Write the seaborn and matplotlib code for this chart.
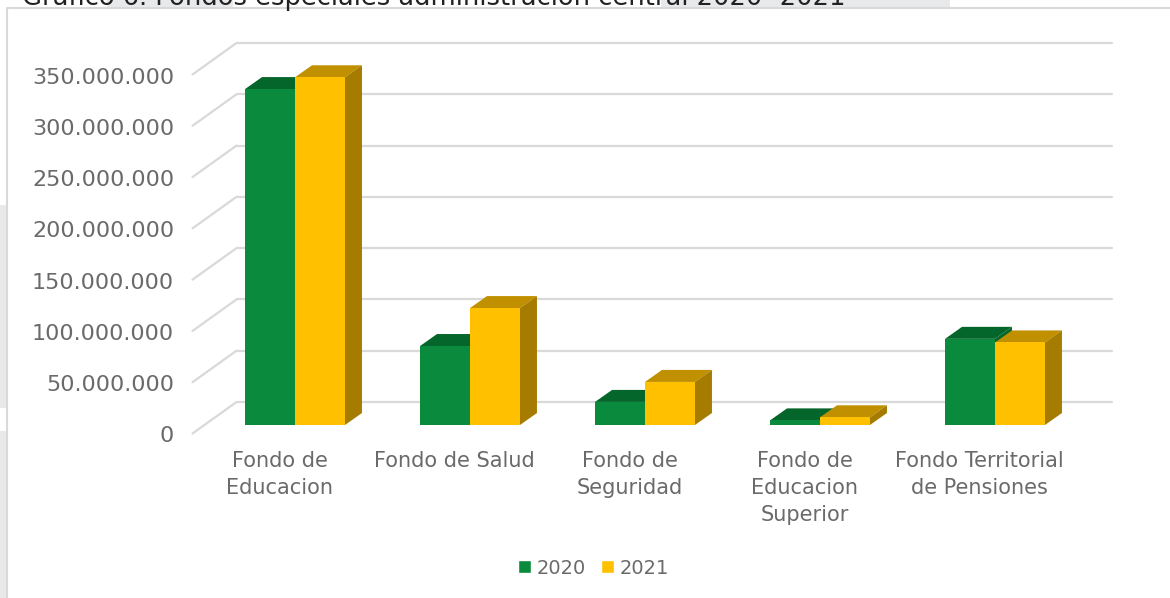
import matplotlib
matplotlib.use("Agg")
import matplotlib.pyplot as plt
from matplotlib.patches import Polygon, Rectangle
from matplotlib.transforms import Affine2D
import seaborn as sns
import pandas as pd

categories = ["Fondo de\nEducacion", "Fondo de Salud", "Fondo de\nSeguridad",
              "Fondo de\nEducacion\nSuperior", "Fondo Territorial\nde Pensiones"]
values_2020 = [327.5e6, 77e6, 22.5e6, 4.5e6, 84e6]
values_2021 = [339e6, 114e6, 42e6, 7.5e6, 80.5e6]
tick_values = [0, 50e6, 100e6, 150e6, 200e6, 250e6, 300e6, 350e6]
title = "Gráfico 6. Fondos especiales administración central 2020- 2021"

GREEN, GREEN_TOP = "#0A8A3C", "#05662B"
GOLD, GOLD_TOP, GOLD_SIDE = "#FFC000", "#C09000", "#A67C00"
TEXT = "#6A6A6A"
GRID = "#D9D9D9"
BACK = "#E8E9EA"
W, H = 1170, 598

sns.set_theme(style="white")
plt.rcParams["font.family"] = ["DejaVu Sans"]
df = pd.DataFrame({"cat": categories * 2,
                   "year": ["2020"] * 5 + ["2021"] * 5,
                   "value": values_2020 + values_2021})

fig = plt.figure(figsize=(W / 100, H / 100), dpi=100, facecolor="white")

# pale page remnants showing around the chart frame
def page_patch(x0, y0, x1, y1):
    fig.add_artist(Rectangle((x0 / W, 1 - y1 / H), (x1 - x0) / W, (y1 - y0) / H,
                             transform=fig.transFigure, fc=BACK, ec="none"))
page_patch(0, 205, 6, 408)
page_patch(0, 431, 6, 598)
page_patch(107, 0, 233, 8)
page_patch(661, 0, 950, 8)

L, R, B, T = 207.5, 1082.5, 425, 66
ax = fig.add_axes([L / W, 1 - B / H, (R - L) / W, (B - T) / H])
ax.patch.set_alpha(0)
sns.barplot(data=df, x="cat", y="value", hue="year", order=categories,
            palette={"2020": GREEN, "2021": GOLD}, width=0.571, saturation=1,
            linewidth=0, legend=False, ax=ax, zorder=3)
ax.set_xlim(-0.5, 4.5)
ax.set_ylim(0, 350e6)
for s in ax.spines.values():
    s.set_visible(False)
ax.set_xlabel("")
ax.set_ylabel("")
fig.canvas.draw()

def shift(dx, dy):
    # offset in screen pixels (dy positive = upward)
    return ax.transData + Affine2D().translate(dx, dy)

# back wall grid and floor-side lines
for v in tick_values:
    ax.plot([-0.5, 4.5], [v, v], color=GRID, lw=1.6, clip_on=False, zorder=1,
            transform=shift(29, 23))
    x0 = ax.transData.transform((-0.5, v))
    ax.plot([x0[0] - 15, x0[0] + 29], [x0[1] - 8.5, x0[1] + 23], color=GRID, lw=1.6,
            clip_on=False, zorder=1, transform=None)

# 3D faces built from the bars seaborn drew
DX, DY = 17, 12
for container, top_c, side_c in zip(ax.containers, (GREEN_TOP, GOLD_TOP), ("#05662B", GOLD_SIDE)):
    for bar in container:
        x, w, h = bar.get_x(), bar.get_width(), bar.get_height()
        (x0, y0), (x1, y1) = ax.transData.transform([(x, 0), (x + w, h)])
        ax.add_patch(Polygon([(x0, y1), (x1, y1), (x1 + DX, y1 + DY), (x0 + DX, y1 + DY)],
                             closed=True, fc=top_c, ec="none", transform=None,
                             clip_on=False, zorder=2.5))
        ax.add_patch(Polygon([(x1, y0), (x1, y1), (x1 + DX, y1 + DY), (x1 + DX, y0 + DY)],
                             closed=True, fc=side_c, ec="none", transform=None,
                             clip_on=False, zorder=2.5 if side_c == GOLD_SIDE else 2))

ax.set_yticks(tick_values)
ax.set_yticklabels([f"{int(v):,}".replace(",", ".") for v in tick_values])
ax.tick_params(axis="y", length=0, labelsize=16, labelcolor=TEXT, pad=24)
ax.tick_params(axis="x", length=0, labelsize=15, labelcolor=TEXT, pad=19)
for lab in ax.get_yticklabels():
    lab.set_transform(lab.get_transform() + Affine2D().translate(0, -9.5))
for lab in ax.get_xticklabels():
    lab.set_transform(lab.get_transform() + Affine2D().translate(-15.5, 0))
    lab.set_linespacing(1.42)

# chart frame and clipped title
fig.add_artist(plt.Line2D([7 / W, 7 / W, 1], [0, 1 - 8 / H, 1 - 8 / H], color=GRID, lw=1.5))
fig.text(22 / W, 1 - 5 / H, title, fontsize=18.5, color="#222222", ha="left", va="baseline")

# legend
handles = [Rectangle((0, 0), 1, 1, fc=GREEN), Rectangle((0, 0), 1, 1, fc=GOLD)]
fig.legend(handles, ["2020", "2021"], loc="center", ncol=2, frameon=False,
           bbox_to_anchor=(593.5 / W, 1 - 568 / H), fontsize=14, labelcolor=TEXT,
           handlelength=0.67, handleheight=0.67, handletextpad=0.25, columnspacing=0.82)

fig.savefig("out.png", dpi=100)
